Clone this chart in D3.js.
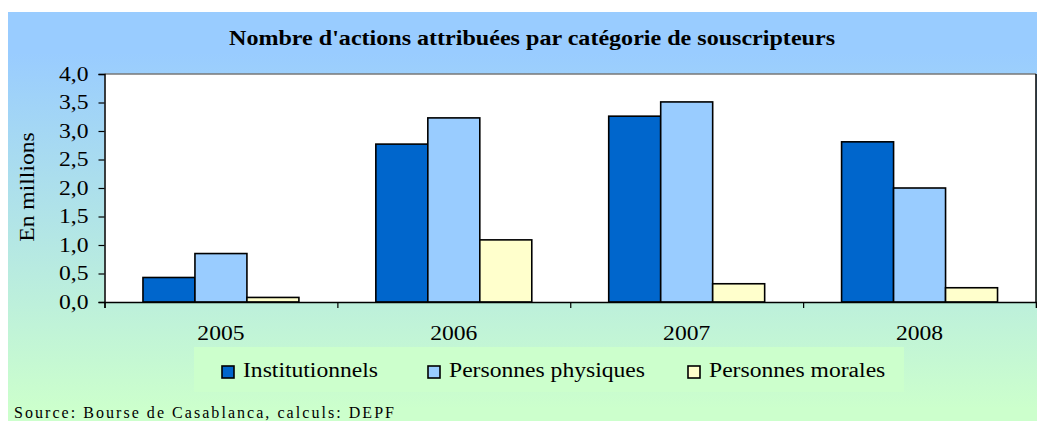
<!DOCTYPE html>
<html>
<head>
<meta charset="utf-8">
<script src="https://cdn.jsdelivr.net/npm/d3@7"></script>
<style>
	body { margin: 0; background: #fff; }
	svg { display: block; }
</style>
</head>
<body>
<div id="chart"></div>
<script>
// données (en millions d'actions)
const years = ['2005', '2006', '2007', '2008'];
const series = ['Institutionnels', 'Personnes physiques', 'Personnes morales'];
const institutionnels = [0.43, 2.77, 3.26, 2.81];
const physiques = [0.85, 3.23, 3.51, 2.00];
const morales = [0.08, 1.09, 0.32, 0.25];
const yTicks = [0, 0.5, 1, 1.5, 2, 2.5, 3, 3.5, 4];
const colors = ['#0066CC', '#99CCFF', '#FFFFCC'];

const title = "Nombre d'actions attribuées par catégorie de souscripteurs";
const yTitle = 'En millions';
const source = 'Source: Bourse de Casablanca, calculs: DEPF';

const values = [institutionnels, physiques, morales];
const rows = years.map(function(y, i) {
	return { year: y, vals: series.map(function(s, j) { return { key: s, idx: j, v: values[j][i] }; }) };
});

const width = 1037, height = 424;
const plot = { left: 104.5, right: 1036, top: 74, bottom: 302 };
const font = '"Liberation Serif", "Times New Roman", Times, serif';
const wide = 1.18; // les textes de l'original sont plus larges que Times

const svg = d3.select('#chart').append('svg')
	.attr('width', width)
	.attr('height', height)
	.attr('font-family', font);

// fond en dégradé bleu -> vert
const grad = svg.append('defs').append('linearGradient')
	.attr('id', 'bg').attr('x1', 0).attr('y1', 0).attr('x2', 0).attr('y2', 1);
grad.append('stop').attr('offset', '0.1').attr('stop-color', '#99CCFF');
grad.append('stop').attr('offset', '0.97').attr('stop-color', '#CCFFCC');

svg.append('rect')
	.attr('x', 8).attr('y', 12)
	.attr('width', width - 8).attr('height', 409)
	.attr('fill', 'url(#bg)');

// zone de tracé
svg.append('rect')
	.attr('x', plot.left).attr('y', plot.top)
	.attr('width', plot.right - plot.left).attr('height', plot.bottom - plot.top)
	.attr('fill', '#fff');
svg.append('line')
	.attr('x1', plot.left).attr('x2', plot.right)
	.attr('y1', plot.top).attr('y2', plot.top)
	.attr('stroke', '#777').attr('stroke-width', 1.5);
svg.append('line')
	.attr('x1', plot.right).attr('x2', plot.right)
	.attr('y1', plot.top).attr('y2', plot.bottom)
	.attr('stroke', '#000').attr('stroke-width', 1.5);

// échelles
const x0 = d3.scaleBand()
	.domain(years)
	.range([plot.left, plot.right])
	.padding(0);

const x1 = d3.scaleBand()
	.domain(series)
	.range([0, x0.bandwidth()])
	.paddingInner(0)
	.paddingOuter(0.74);

const y = d3.scaleLinear()
	.domain([0, 4])
	.range([plot.bottom, plot.top]);

// barres
svg.append('g')
	.selectAll('g')
	.data(rows).enter()
	.append('g')
		.attr('transform', function(d) { return 'translate(' + x0(d.year) + ',0)'; })
	.selectAll('rect')
	.data(function(d) { return d.vals; }).enter()
	.append('rect')
		.attr('x', function(d) { return x1(d.key); })
		.attr('y', function(d) { return y(d.v); })
		.attr('width', x1.bandwidth())
		.attr('height', function(d) { return y(0) - y(d.v); })
		.attr('fill', function(d) { return colors[d.idx]; })
		.attr('stroke', '#000')
		.attr('stroke-width', 1.6);

// axe y
const yAxis = d3.axisLeft(y)
	.tickValues(yTicks)
	.tickSize(6)
	.tickPadding(10)
	.tickFormat(function(d) { return d3.format('.1f')(d).replace('.', ','); });

const gy = svg.append('g')
	.attr('transform', 'translate(' + plot.left + ',0)')
	.call(yAxis)
	.attr('font-family', font)
	.attr('font-size', 20);
gy.select('.domain').attr('stroke', '#000').attr('stroke-width', 1.5);
gy.selectAll('.tick line').attr('stroke', '#000').attr('stroke-width', 1.2);
gy.selectAll('.tick text').attr('class', 'wide');

// axe x : graduations entre catégories, libellés au centre
const xBound = d3.scaleLinear().domain([0, years.length]).range([plot.left, plot.right]);
const gxt = svg.append('g')
	.attr('transform', 'translate(0,' + plot.bottom + ')')
	.call(d3.axisBottom(xBound).ticks(years.length).tickSize(6).tickFormat(''));
gxt.select('.domain').attr('stroke', '#000').attr('stroke-width', 1.5);
gxt.selectAll('.tick line').attr('stroke', '#000').attr('stroke-width', 1.2);

const gx = svg.append('g')
	.attr('transform', 'translate(0,' + plot.bottom + ')')
	.call(d3.axisBottom(x0).tickSize(0).tickPadding(24))
	.attr('font-family', font)
	.attr('font-size', 20);
gx.select('.domain').remove();
gx.selectAll('.tick text').attr('class', 'wide');

// titres
svg.append('text')
	.attr('x', 532).attr('y', 45)
	.attr('text-anchor', 'middle')
	.attr('font-size', 21)
	.attr('font-weight', 'bold')
	.attr('textLength', 606)
	.attr('lengthAdjust', 'spacingAndGlyphs')
	.text(title);

svg.append('text')
	.attr('class', 'wide')
	.attr('transform', 'translate(34,187) rotate(-90)')
	.attr('text-anchor', 'middle')
	.attr('font-size', 20)
	.text(yTitle);

// légende
const legendX = [222, 428, 688];
const legend = svg.append('g');
legend.append('rect')
	.attr('x', 194).attr('y', 347)
	.attr('width', 710).attr('height', 45)
	.attr('fill', '#CCFFCC');

const items = legend.selectAll('g.item')
	.data(series).enter()
	.append('g')
		.attr('class', 'item')
		.attr('transform', function(d, i) { return 'translate(' + legendX[i] + ',0)'; });
items.append('rect')
	.attr('x', 0).attr('y', 366)
	.attr('width', 12).attr('height', 12)
	.attr('fill', function(d, i) { return colors[i]; })
	.attr('stroke', '#000')
	.attr('stroke-width', 1.6);
items.append('text')
	.attr('class', 'wide')
	.attr('x', 21).attr('y', 377)
	.attr('font-size', 20)
	.text(function(d) { return d; });

// source
svg.append('text')
	.attr('x', 14).attr('y', 418)
	.attr('font-size', 16)
	.attr('textLength', 380)
	.attr('lengthAdjust', 'spacing')
	.text(source);

// élargir les textes comme dans l'original
svg.selectAll('text.wide').each(function() {
	const len = this.getComputedTextLength();
	this.setAttribute('textLength', len * wide);
	this.setAttribute('lengthAdjust', 'spacingAndGlyphs');
});
</script>
</body>
</html>
